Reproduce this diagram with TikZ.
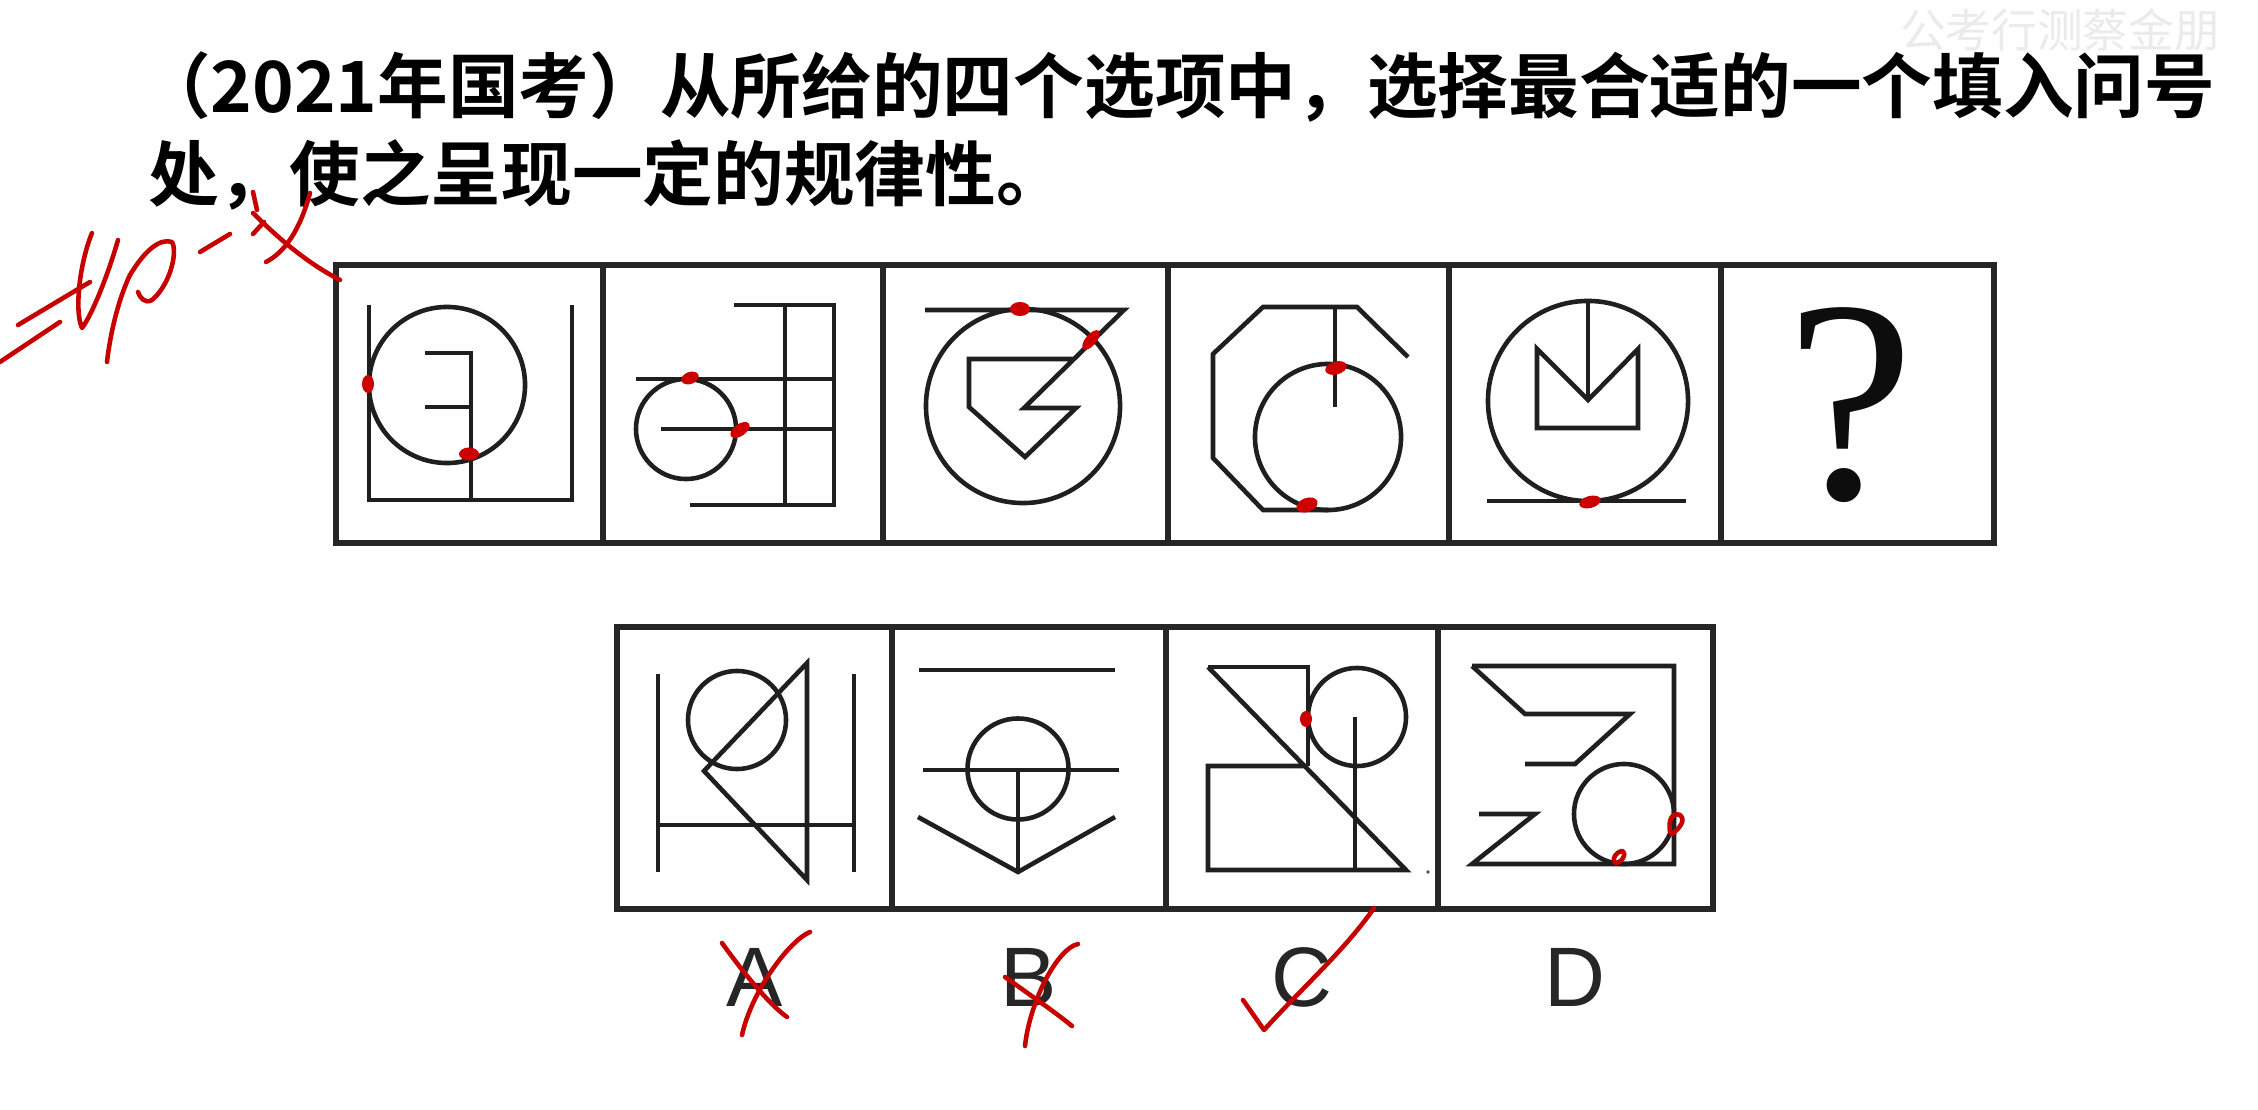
\documentclass[tikz,border=0pt]{standalone}
\usepackage{fontspec}
\newfontfamily\cjkb{Noto Sans CJK SC Bold}
\newfontfamily\cjk{Noto Sans CJK SC}
\newfontfamily\lsans{Liberation Sans}
\newfontfamily\lserif{Liberation Serif}
\begin{document}
\begin{tikzpicture}[x=0.01cm,y=-0.01cm,
  cellbox/.style={line width=1.5pt, draw=black!85},
  fig/.style={line width=1.3pt, draw=black!88, line join=miter},
  ink/.style={draw=red!78!black, line width=1.3pt, line cap=round, line join=round},
  blob/.style={fill=red!80!black},
  txt/.style={inner sep=0pt, outer sep=0pt}]
\useasboundingbox (0,0) rectangle (2258,1110);
\fill[white] (0,0) rectangle (2258,1110);

% watermark
\node[txt, text=black!8] (wm) at (2060,30) {\cjk\fontsize{13}{13}\selectfont 公考行测蔡金朋};

% title
\node[txt, anchor=west] (t1) at (140,87) {\cjkb\fontsize{20.1}{20}\selectfont （2021年国考）从所给的四个选项中，选择最合适的一个填入问号};
\node[txt, anchor=west] (t2) at (148,175) {\cjkb\fontsize{20.1}{20}\selectfont 处，使之呈现一定的规律性。};

% top row cells
\foreach \a/\b in {336/603,603/883,883/1168,1168/1449,1449/1721,1721/1994}
  \draw[cellbox] (\a,265) rectangle (\b,543);

% cell 1
\draw[fig] (369,305) -- (369,500) -- (572,500) -- (572,305);
\draw[fig] (471,500) -- (471,353) -- (425,353);
\draw[fig] (425,407) -- (471,407);
\draw[fig] (447,385) circle[radius=0.78cm];

% cell 2
\draw[fig] (734,305) -- (834,305) -- (834,505) -- (690,505);
\draw[fig] (785,305) -- (785,505);
\draw[fig] (636,379) -- (834,379);
\draw[fig] (661,429) -- (834,429);
\draw[fig] (686,429) circle[radius=0.50cm];

% cell 3
\draw[fig] (925,310) -- (1124,310) -- (1024,408) -- (1076,408) -- (1025,457) -- (969,407) -- (969,359) -- (1074,359);
\draw[fig] (1023,406) circle[radius=0.97cm];

% cell 4
\draw[fig] (1408,357) -- (1357,307) -- (1263,307) -- (1213,354) -- (1213,458) -- (1263,510) -- (1328,510);
\draw[fig] (1335,307) -- (1335,407);
\draw[fig] (1328,437) circle[radius=0.73cm];

% cell 5
\draw[fig] (1588,401) circle[radius=1.0cm];
\draw[fig] (1588,301) -- (1588,400);
\draw[fig] (1537,349) -- (1537,428) -- (1638,428) -- (1638,349) -- (1588,400) -- cycle;
\draw[fig] (1487,501) -- (1686,501);

% cell 6
\node[txt, text=black!95] (qm) at (1850,405) {\lserif\fontsize{82}{82}\selectfont ?};

% bottom row cells
\foreach \a/\b in {617/892,892/1166,1166/1438,1438/1713}
  \draw[cellbox] (\a,627) rectangle (\b,909);

% option A
\draw[fig] (658,674) -- (658,872);
\draw[fig] (854,674) -- (854,872);
\draw[fig] (658,825) -- (854,825);
\draw[fig] (737,720) circle[radius=0.49cm];
\draw[fig] (807,663) -- (807,880) -- (704,771) -- cycle;

% option B
\draw[fig] (919,670) -- (1115,670);
\draw[fig] (923,770) -- (1119,770);
\draw[fig] (1018,769) circle[radius=0.505cm];
\draw[fig] (1018,770) -- (1018,872);
\draw[fig] (918,817) -- (1018,872) -- (1115,817);

% option C
\draw[fig] (1208,667) -- (1308,667) -- (1308,766);
\draw[fig] (1208,667) -- (1406,870) -- (1208,870) -- (1208,766) -- (1308,766);
\draw[fig] (1357,717) circle[radius=0.49cm];
\draw[fig] (1355,717) -- (1355,870);
\fill[black!70] (1428,872) circle[radius=0.018cm];

% option D
\draw[fig] (1472,666) -- (1674,666) -- (1674,864) -- (1472,864) -- (1535,814) -- (1479,814);
\draw[fig] (1472,666) -- (1525,714) -- (1630,714) -- (1575,764) -- (1525,764);
\draw[fig] (1624,814) circle[radius=0.50cm];

% letters
\node[txt, text=black!85] (la) at (755,977) {\lsans\fontsize{24}{24}\selectfont A};
\node[txt, text=black!85] (lb) at (1029,977) {\lsans\fontsize{24}{24}\selectfont B};
\node[txt, text=black!85] (lc) at (1302,977) {\lsans\fontsize{24}{24}\selectfont C};
\node[txt, text=black!85] (ld) at (1575,977) {\lsans\fontsize{24}{24}\selectfont D};

% red annotations: blobs
\fill[blob] (368,384) ellipse[x radius=0.06cm, y radius=0.09cm];
\fill[blob] (469,454) ellipse[x radius=0.1cm, y radius=0.065cm];
\fill[blob, rotate around={20:(690,378)}] (690,378) ellipse[x radius=0.09cm, y radius=0.06cm];
\fill[blob, rotate around={35:(740,430)}] (740,430) ellipse[x radius=0.11cm, y radius=0.06cm];
\fill[blob] (1020,309) ellipse[x radius=0.1cm, y radius=0.07cm];
\fill[blob, rotate around={50:(1091,340)}] (1091,340) ellipse[x radius=0.12cm, y radius=0.055cm];
\fill[blob, rotate around={15:(1336,368)}] (1336,368) ellipse[x radius=0.11cm, y radius=0.065cm];
\fill[blob, rotate around={20:(1307,505)}] (1307,505) ellipse[x radius=0.11cm, y radius=0.07cm];
\fill[blob, rotate around={15:(1590,502)}] (1590,502) ellipse[x radius=0.11cm, y radius=0.06cm];
\fill[blob] (1306,719) ellipse[x radius=0.06cm, y radius=0.08cm];
\draw[ink] (1670,832) .. controls (1668,820) and (1672,812) .. (1680,815) .. controls (1686,820) and (1680,828) .. (1672,834);
\draw[ink] (1619,852) .. controls (1626,848) and (1626,858) .. (1619,862) .. controls (1612,866) and (1612,856) .. (1619,852);

% red annotations: ticks and crosses
\draw[ink] (722,943) .. controls (745,975) and (770,1005) .. (787,1017);
\draw[ink] (810,932) .. controls (790,940) and (752,990) .. (742,1035);
\draw[ink] (1005,977) .. controls (1030,995) and (1055,1012) .. (1072,1026);
\draw[ink] (1078,944) .. controls (1058,948) and (1030,1000) .. (1025,1046);
\draw[ink] (1243,1000) -- (1264,1030) .. controls (1300,990) and (1345,950) .. (1374,908);

% red handwriting
\draw[ink] (18,325) -- (90,282);
\draw[ink] (0,362) -- (60,322);
\draw[ink] (92,233) .. controls (80,262) and (74,310) .. (82,328) .. controls (92,315) and (108,275) .. (118,240);
\draw[ink] (107,362) .. controls (110,335) and (118,300) .. (130,275);
\draw[ink] (130,275) .. controls (145,250) and (160,238) .. (172,242) .. controls (178,252) and (170,285) .. (152,300) .. controls (145,304) and (140,298) .. (138,292);
\draw[ink] (200,252) -- (230,234);
\draw[ink] (253,192) -- (257,210);
\draw[ink] (253,234) -- (264,222);
\draw[ink] (266,262) .. controls (285,252) and (300,230) .. (310,193);
\draw[ink] (253,213) .. controls (275,235) and (305,262) .. (340,280);
\end{tikzpicture}
\end{document}
